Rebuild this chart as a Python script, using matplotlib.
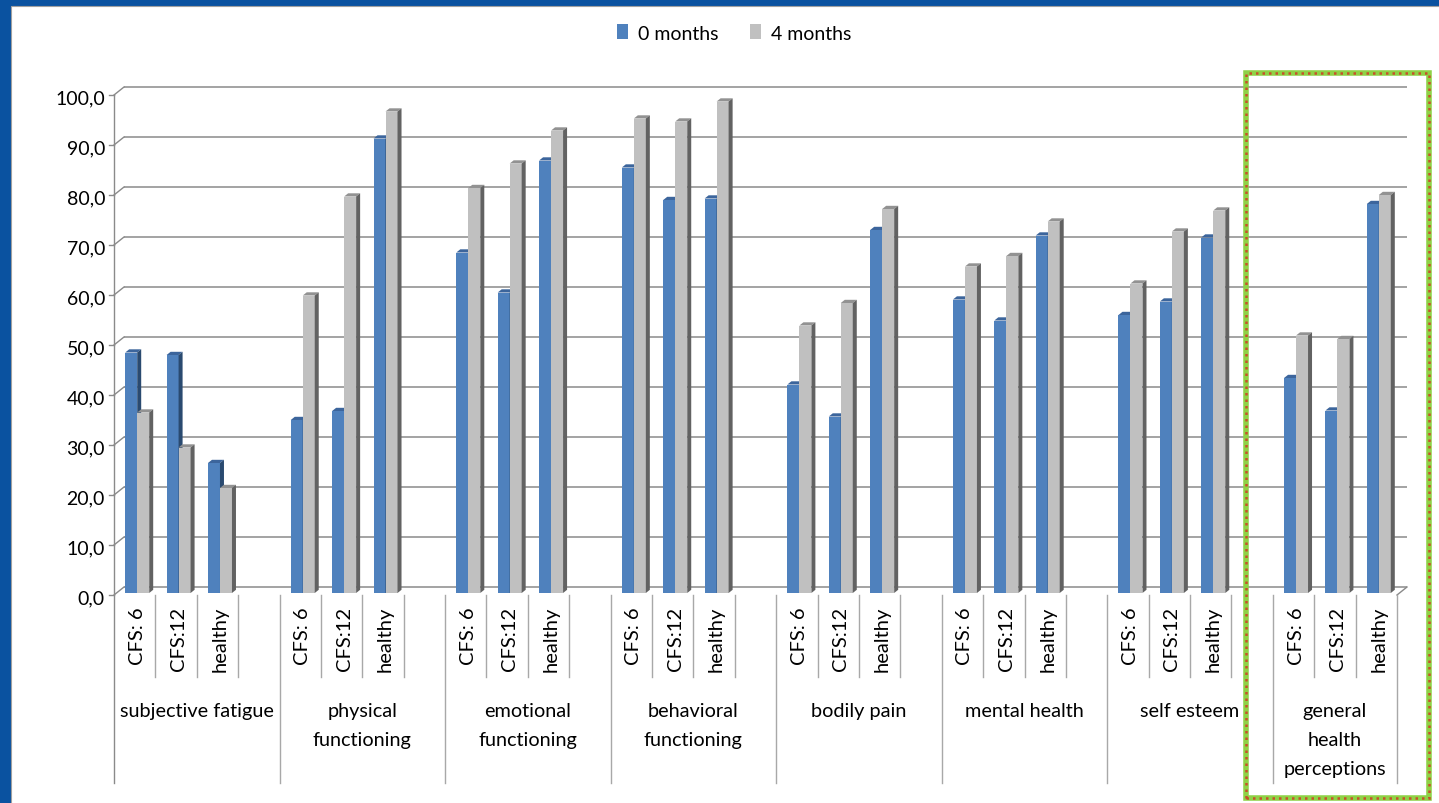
import matplotlib
matplotlib.use("Agg")
import matplotlib.pyplot as plt
from matplotlib.patches import Rectangle, Polygon, Patch
from matplotlib.transforms import blended_transform_factory, offset_copy
import numpy as np

plt.rcParams['font.family'] = ['Lato', 'DejaVu Sans']

# ---- data -------------------------------------------------------------
groups = ["subjective fatigue", "physical\nfunctioning", "emotional\nfunctioning",
          "behavioral\nfunctioning", "bodily pain", "mental health", "self esteem",
          "general\nhealth\nperceptions"]
subgroups = ["CFS: 6", "CFS:12", "healthy"]
series_names = ["0 months", "4 months"]
months_0 = [48.1, 47.6, 26.0,
            34.6, 36.4, 90.9,
            68.1, 60.1, 86.5,
            85.1, 78.6, 78.9,
            41.7, 35.3, 72.6,
            58.7, 54.5, 71.5,
            55.6, 58.3, 71.1,
            43.0, 36.5, 77.8]
months_4 = [36.1, 29.1, 21.0,
            59.5, 79.3, 96.3,
            81.0, 85.9, 92.5,
            94.9, 94.3, 98.3,
            53.5, 58.0, 76.8,
            65.3, 67.4, 74.3,
            61.9, 72.3, 76.5,
            51.5, 50.8, 79.6]
y_ticks = list(range(0, 101, 10))
y_tick_labels = [f"{v:.1f}".replace(".", ",") for v in y_ticks]

# ---- styling ----------------------------------------------------------
face_colors = [("#4F81BD", "#3C659C", "#2A4A70"),   # front, top, side
               ("#C0C0C0", "#929292", "#626262")]
grid_col = "#8A8A8A"
sep_col = "#A8A8A8"
FS = 14

W, H = 1439, 804
fig = plt.figure(figsize=(W / 100, H / 100), dpi=100, facecolor="#0A52A0")
fig.patches.append(Rectangle((11 / W, -0.02), 1.05, 1 - 7 / H + 0.02,
                             transform=fig.transFigure, facecolor="white",
                             edgecolor="#A0A0A0", lw=0.8, zorder=-5))

n_slots = 4 * len(groups) - 1
ax = fig.add_axes([114 / W, (H - 596) / H, 1283 / W, 500 / H])
ax.set_xlim(-0.5, n_slots - 0.5)
ax.set_ylim(0, 100)
ax.set_axis_off()

p0 = ax.transData.transform((0, 0))
p1 = ax.transData.transform((1, 1))
ppx, ppy = p1[0] - p0[0], p1[1] - p0[1]

# depth geometry (pixels -> data units)
back_dx, back_dy = 10 / ppx, 8 / ppy
bar_ox, bar_oy = 2.5 / ppx, 2 / ppy
bar_dx, bar_dy = 4 / ppx, 3.2 / ppy
bw = 12 / ppx

xl, xr = -0.5, n_slots - 0.5

# back wall gridlines, left-side connectors and tick marks
for v in y_ticks:
    ax.plot([xl + back_dx, xr + back_dx], [v + back_dy, v + back_dy],
            color=grid_col, lw=1.1, zorder=1, clip_on=False, solid_capstyle="butt")
    ax.plot([xl, xl + back_dx], [v, v + back_dy], color=grid_col, lw=1.0,
            zorder=1, clip_on=False)
    ax.plot([xl - 5 / ppx, xl], [v, v], color=grid_col, lw=1.0, zorder=1, clip_on=False)
# floor right edge
ax.plot([xr + back_dx, xr], [back_dy, 0], color=grid_col, lw=1.0, zorder=1, clip_on=False)

# y tick labels
lab_tr = offset_copy(ax.transData, fig=fig, x=-9, y=-3, units="dots")
for v, lab in zip(y_ticks, y_tick_labels):
    ax.text(xl, v, lab, transform=lab_tr, ha="right", va="center",
            fontsize=FS, color="black")

# bars with front, top and side faces
xpos = [4 * g + s for g in range(len(groups)) for s in range(len(subgroups))]
for j, vals in enumerate([months_0, months_4]):
    front, top, side = face_colors[j]
    lefts = [x - bw + j * bw + bar_ox for x in xpos]
    ax.bar(lefts, vals, width=bw, bottom=bar_oy, align="edge", color=front,
           edgecolor="none", zorder=3 + 2 * j, clip_on=False)
    for x0, v in zip(lefts, vals):
        x1 = x0 + bw
        t = v + bar_oy
        ax.add_patch(Polygon([(x0, t), (x1, t), (x1 + bar_dx, t + bar_dy),
                              (x0 + bar_dx, t + bar_dy)], closed=True,
                             facecolor=top, edgecolor="none", zorder=3 + 2 * j,
                             clip_on=False))
        ax.add_patch(Polygon([(x1, bar_oy), (x1 + bar_dx, bar_oy + bar_dy),
                              (x1 + bar_dx, t + bar_dy), (x1, t)], closed=True,
                             facecolor=side, edgecolor="none", zorder=3 + 2 * j,
                             clip_on=False))

# category axis: separators and labels
tr = blended_transform_factory(ax.transData, ax.transAxes)
short_y = -82 / 500
long_y = -188 / 500
ax.plot([xl, xl], [1.0, long_y], transform=tr, color=grid_col, lw=1.0, clip_on=False)
for k in range(n_slots):
    b = k + 0.5
    is_long = (k % 4 == 3) or (k == n_slots - 1)
    ax.plot([b, b], [0, long_y if is_long else short_y], transform=tr,
            color=sep_col, lw=1.0, clip_on=False)

for x, (g, s) in zip(xpos, [(g, s) for g in range(len(groups)) for s in range(len(subgroups))]):
    ax.text(x + 0.06, -11 / 500, subgroups[s], transform=tr, rotation=90,
            ha="center", va="top", fontsize=FS + 0.5, color="black")

for g, name in enumerate(groups):
    cx = 4 * g + 1.5 if g < len(groups) - 1 else 4 * g + 1
    ax.text(cx, -107 / 500, name, transform=tr, ha="center", va="top",
            fontsize=FS + 0.3, color="black", linespacing=1.85)

# legend
handles = [Patch(facecolor=c[0], edgecolor="none") for c in face_colors]
fig.legend(handles, series_names, loc="center", bbox_to_anchor=(734 / W, 1 - 34 / H),
           ncol=2, frameon=False, fontsize=FS, handlelength=0.6, handleheight=0.8,
           handletextpad=0.5, columnspacing=1.6)

# highlight frame around the last group
fx0, fy0, fx1, fy1 = 1245.5, 73.5, 1428.5, 798.5
frame_kw = dict(transform=fig.transFigure, fill=False, zorder=10)
fig.patches.append(Rectangle((fx0 / W, 1 - fy1 / H), (fx1 - fx0) / W, (fy1 - fy0) / H,
                             edgecolor="#8ED246", lw=4.0, **frame_kw))
fig.patches.append(Rectangle((fx0 / W, 1 - fy1 / H), (fx1 - fx0) / W, (fy1 - fy0) / H,
                             edgecolor="#C8502A", lw=1.8, linestyle=(0, (1.0, 1.6)),
                             **frame_kw))

fig.savefig("out.png", dpi=100, facecolor=fig.get_facecolor())
